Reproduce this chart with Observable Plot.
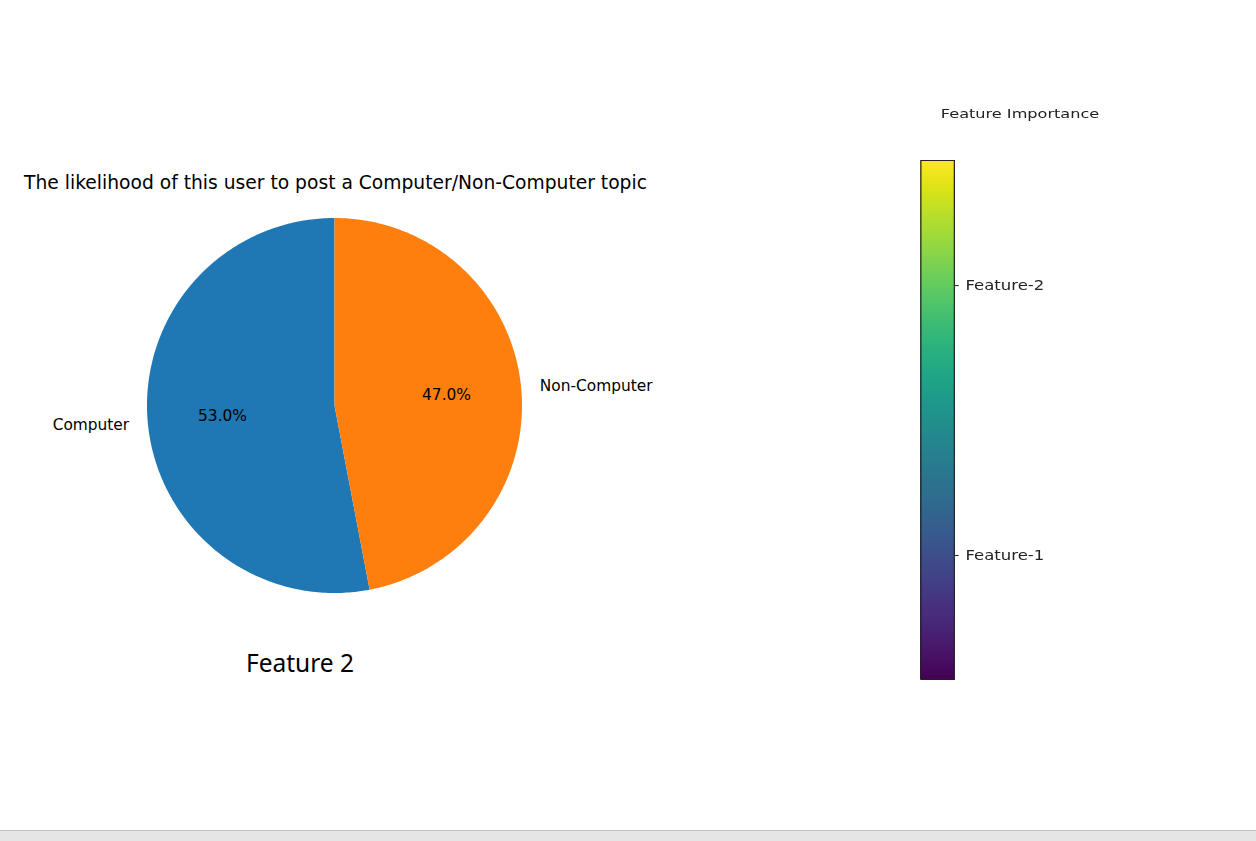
<!DOCTYPE html>
<html>
<head>
<meta charset="utf-8">
<script src="https://cdn.jsdelivr.net/npm/d3@7"></script>
<script src="https://cdn.jsdelivr.net/npm/@observablehq/plot@0.6"></script>
<style>
  html, body { margin: 0; padding: 0; background: #fff; }
  #page { position: relative; width: 1256px; height: 830px; background: #fff; overflow: hidden; }
  #bar { height: 10px; background: #e5e5e5; border-top: 1px solid #c0c0c0; }
  .abs { position: absolute; }
</style>
</head>
<body>
<div id="page">
  <div id="pie" class="abs" style="left:0;top:0"></div>
  <div id="title" class="abs" style="left:0;width:671px;top:172px;line-height:22px;text-align:center;font-family:'DejaVu Sans';font-size:18.7px;color:#000;white-space:nowrap"></div>
  <div id="caption" class="abs" style="left:200px;width:200px;top:646px;line-height:34px;text-align:center;font-family:'Noto Sans';font-size:24.5px;color:#000"></div>
  <div id="cbar" class="abs" style="left:919px;top:90px;width:130px;height:600px;transform:scaleX(1.24);transform-origin:0 0">
    <div id="cbtitle" class="abs" style="left:-18.5px;width:200px;top:16px;line-height:16px;text-align:center;font-family:'DejaVu Sans';font-size:13px;color:#222;white-space:nowrap"></div>
    <div id="cbplot" class="abs" style="left:0;top:69px"></div>
  </div>
  <div id="err" class="abs" style="left:700px;top:700px;color:red;font-size:12px"></div>
</div>
<div id="bar"></div>
<script>
// ---- data ----
const titleText = "The likelihood of this user to post a Computer/Non-Computer topic";
const captionText = "Feature 2";
const labels = ["Computer", "Non-Computer"];
const shares = [53.0, 47.0];
const colors = ["#1f77b4", "#ff7f0e"];
const colorbarTitle = "Feature Importance";
const featureNames = ["Feature-1", "Feature-2"];
const featurePos = [0.239, 0.759];

document.getElementById("title").textContent = titleText;
document.getElementById("caption").textContent = captionText;
document.getElementById("cbtitle").textContent = colorbarTitle;

// ---- pie geometry (start at 90°, counterclockwise like matplotlib) ----
const total = d3.sum(shares);
let start = 90;
const slices = shares.map((s, i) => {
  const a0 = start, a1 = start + 360 * s / total;
  start = a1;
  return {label: labels[i], share: s, color: colors[i], a0, a1, mid: (a0 + a1) / 2};
});
const rad = a => a * Math.PI / 180;
const wedgePoints = sl => {
  const n = 240;
  const pts = [{x: 0, y: 0}];
  for (let k = 0; k <= n; k++) {
    const a = rad(sl.a0 + (sl.a1 - sl.a0) * k / n);
    pts.push({x: Math.cos(a), y: Math.sin(a)});
  }
  pts.push({x: 0, y: 0});
  return pts;
};
const labelPts = slices.map(sl => ({text: sl.label, x: 1.1 * Math.cos(rad(sl.mid)), y: 1.1 * Math.sin(rad(sl.mid))}));
const pctPts = slices.map(sl => ({text: sl.share.toFixed(1) + "%", x: 0.6 * Math.cos(rad(sl.mid)), y: 0.6 * Math.sin(rad(sl.mid))}));

const pie = Plot.plot({
  width: 700, height: 830,
  margin: 0,
  x: {domain: [-1, 1], range: [146.5, 521.5], axis: null},
  y: {domain: [-1, 1], range: [592.5, 217.5], axis: null},
  style: {fontFamily: "DejaVu Sans", fontSize: "15.4px", background: "transparent", color: "#000"},
  marks: [
    ...slices.map(sl => Plot.line(wedgePoints(sl), {x: "x", y: "y", fill: sl.color, stroke: "none"})),
    Plot.text(labelPts.filter(d => d.x < 0), {x: "x", y: "y", text: "text", textAnchor: "end", fill: "#000"}),
    Plot.text(labelPts.filter(d => d.x >= 0), {x: "x", y: "y", text: "text", textAnchor: "start", fill: "#000"}),
    Plot.text(pctPts, {x: "x", y: "y", text: "text", textAnchor: "middle", fill: "#000"})
  ]
});
document.getElementById("pie").appendChild(pie);

// ---- colorbar ----
const N = 260;
const steps = d3.range(N).map(i => ({y1: i / N, y2: (i + 1) / N, v: (i + 0.5) / N}));
const cbBase = {
  width: 118, height: 521,
  marginTop: 1, marginBottom: 1, marginLeft: 1, marginRight: 90,
  x: {domain: [0, 1], axis: null},
  y: {domain: [0, 1], axis: null},
  color: {type: "linear", scheme: "viridis", domain: [0, 1]},
  style: {fontFamily: "DejaVu Sans", fontSize: "13.3px", background: "transparent", color: "#222", overflow: "visible"}
};
const barMarks = [
  Plot.rect(steps, {x1: () => 0, x2: () => 1, y1: "y1", y2: "y2", fill: "v", inset: 0, insetLeft: 0, insetRight: 0, shapeRendering: "crispEdges"}),
  Plot.frame({stroke: "#222", strokeWidth: 1})
];
let cb;
try {
  cb = Plot.plot({...cbBase, marks: [
    ...barMarks,
    Plot.axisY(featurePos, {anchor: "right", tickSize: 3, tickPadding: 6, stroke: "#222", fill: "#222",
      tickFormat: d => featureNames[featurePos.indexOf(d)]})
  ]});
} catch (e) {
  document.getElementById("err").textContent = String(e);
  cb = Plot.plot({...cbBase, marks: [
    ...barMarks,
    Plot.text(featurePos, {y: d => d, x: () => 1, text: d => featureNames[featurePos.indexOf(d)], textAnchor: "start", dx: 9, fill: "#222"})
  ]});
}
document.getElementById("cbplot").appendChild(cb);
</script>
</body>
</html>
